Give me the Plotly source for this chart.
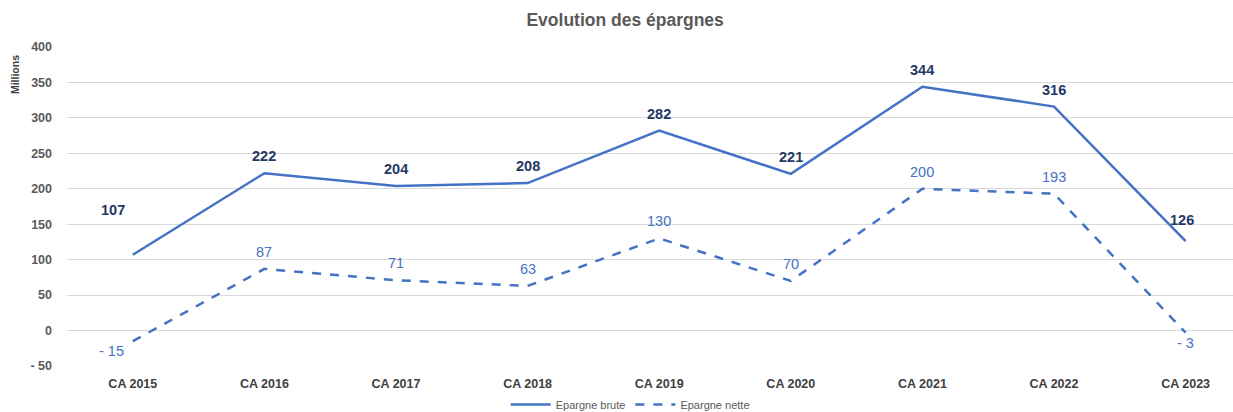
import plotly.graph_objects as go

categories = ["CA 2015", "CA 2016", "CA 2017", "CA 2018", "CA 2019", "CA 2020", "CA 2021", "CA 2022", "CA 2023"]
epargne_brute = [107, 222, 204, 208, 282, 221, 344, 316, 126]
epargne_nette = [-15, 87, 71, 63, 130, 70, 200, 193, -3]
y_tickvals = [-50, 0, 50, 100, 150, 200, 250, 300, 350, 400]
y_ticktext = ["- 50", "0", "50", "100", "150", "200", "250", "300", "350", "400"]

def fmt(v):
    return f"- {abs(v)}" if v < 0 else str(v)

line_color = "#4472C4"
font = "Liberation Sans, Arial, sans-serif"

fig = go.Figure()
fig.add_trace(go.Scatter(x=list(range(len(categories))), y=epargne_brute, mode="lines",
                         name="Epargne brute", line=dict(color=line_color, width=2.5)))
fig.add_trace(go.Scatter(x=list(range(len(categories))), y=epargne_nette, mode="lines",
                         name="Epargne nette", line=dict(color=line_color, width=2.5, dash="dash")))

annotations = []
for i, v in enumerate(epargne_brute):
    xs, ys = 0, 17
    if i == 0:
        xs, ys = -20, 45
    if i == len(categories) - 1:
        xs, ys = -4, 21
    annotations.append(dict(x=i, y=v, text=f"<b>{fmt(v)}</b>", showarrow=False, xshift=xs, yshift=ys,
                            font=dict(family=font, size=14.5, color="#1F3864")))
for i, v in enumerate(epargne_nette):
    xs, ys = 0, 17
    if v < 0:
        xs, ys = (-21 if i == 0 else 0), -10
    annotations.append(dict(x=i, y=v, text=fmt(v), showarrow=False, xshift=xs, yshift=ys,
                            font=dict(family=font, size=14.5, color=line_color)))
annotations.append(dict(xref="paper", yref="paper", x=-0.0446, y=0.915, xanchor="center", yanchor="middle",
                        text="<b>Millions</b>", textangle=-90,
                        showarrow=False, font=dict(family=font, size=10.5, color="#404040")))

fig.update_layout(
    width=1233, height=412,
    margin=dict(l=67, r=0, t=47, b=46, autoexpand=False),
    paper_bgcolor="white", plot_bgcolor="white",
    title=dict(text="<b>Evolution des épargnes</b>", xref="container", x=0.507, xanchor="center",
               yref="container", y=0.952, yanchor="middle",
               font=dict(family=font, size=17.5, color="#595959")),
    xaxis=dict(range=[-0.5, 8.36], tickvals=list(range(len(categories))),
               ticktext=[f"<b>{c}</b>" for c in categories], showgrid=False, zeroline=False,
               tickfont=dict(family=font, size=12.5, color="#404040"), ticks="", automargin=False,
               ticklabelstandoff=8),
    yaxis=dict(range=[-50, 400], tickvals=y_tickvals, ticktext=[f"<b>{t}</b>" for t in y_ticktext],
               gridcolor="#D9D9D9", gridwidth=1, zeroline=False, automargin=False,
               tickfont=dict(family=font, size=12.5, color="#595959"), ticks="", ticklabelstandoff=14),
    legend=dict(orientation="h", x=0.483, xanchor="center", yref="container", y=0.018, yanchor="middle",
                font=dict(family=font, size=11, color="#595959"), itemwidth=40),
    annotations=annotations,
    showlegend=True,
)
fig.write_html("out.html", config={"displayModeBar": False},
               post_script="document.body.style.margin='0';document.body.style.overflow='hidden';")
